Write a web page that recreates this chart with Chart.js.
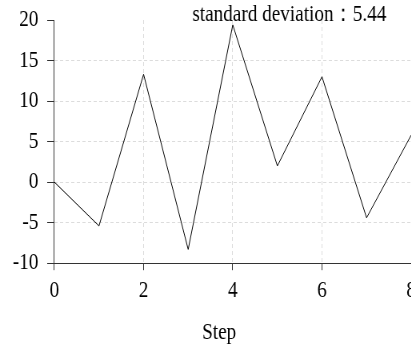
<!DOCTYPE html>
<html>
<head>
<meta charset="utf-8">
<script src="https://cdn.jsdelivr.net/npm/chart.js@4.4.0/dist/chart.umd.min.js"></script>
<style>
  html, body { margin: 0; padding: 0; background: #fff; overflow: hidden; width: 411px; height: 348px; }
  /* the reference looks horizontally squeezed, so draw wider and squeeze */
  #wrap { width: 526px; height: 348px; transform: scaleX(0.8); transform-origin: 0 0; }
</style>
</head>
<body>
<div id="wrap"><canvas id="chart" width="526" height="348"></canvas></div>
<script>
// data
const steps = [0, 1, 2, 3, 4, 5, 6, 7, 8];
const values = [0, -5.4, 13.3, -8.3, 19.4, 2.0, 13.0, -4.4, 5.8];
const xTicks = [0, 2, 4, 6, 8];
const yTicks = [-10, -5, 0, 5, 10, 15, 20];
const sdText = "standard deviation：5.44";
const xTitle = "Step";

const FONT = "'Liberation Serif', 'Times New Roman', serif";

// std-dev note at top right, and the x title (it sits left of the plot centre in the reference)
const textPlugin = {
  id: "extraText",
  afterDraw(chart) {
    const { ctx, chartArea } = chart;
    ctx.save();
    ctx.font = "24px " + FONT;
    ctx.fillStyle = "#000";
    ctx.textBaseline = "alphabetic";
    ctx.textAlign = "right";
    ctx.fillText(sdText, chartArea.right - 31, chartArea.top + 1);
    ctx.textAlign = "center";
    ctx.fillText(xTitle, (chartArea.left + chartArea.right) / 2 - 17, chart.height - 9);
    ctx.restore();
  }
};

new Chart(document.getElementById("chart"), {
  type: "line",
  data: {
    datasets: [{
      data: steps.map((s, i) => ({ x: s, y: values[i] })),
      borderColor: "#000",
      borderWidth: 1,
      pointRadius: 0,
      tension: 0,
      fill: false
    }]
  },
  options: {
    responsive: false,
    animation: false,
    layout: { padding: { left: 5, top: 0, right: 0, bottom: 37 } },
    plugins: {
      legend: { display: false },
      tooltip: { enabled: false }
    },
    scales: {
      x: {
        type: "linear",
        min: xTicks[0],
        max: xTicks[xTicks.length - 1],
        afterBuildTicks: axis => { axis.ticks = xTicks.map(v => ({ value: v })); },
        ticks: { color: "#000", font: { family: FONT, size: 24 }, padding: 6, maxRotation: 0 },
        grid: {
          color: ctx => (ctx.tick && ctx.tick.value === 0 ? "rgba(0,0,0,0)" : "#dcdcdc"),
          tickColor: "#333",
          tickLength: 7
        },
        border: { color: "#333", dash: [4, 3] }
      },
      y: {
        min: yTicks[0],
        max: yTicks[yTicks.length - 1],
        afterBuildTicks: axis => { axis.ticks = yTicks.map(v => ({ value: v })); },
        // keep the plot top where the reference has it
        afterFit: axis => { axis.paddingTop = 20; },
        ticks: { color: "#000", font: { family: FONT, size: 24 }, padding: 11 },
        grid: {
          color: ctx => (ctx.tick && (ctx.tick.value === 20 || ctx.tick.value === -10) ? "rgba(0,0,0,0)" : "#dcdcdc"),
          tickColor: "#333",
          tickLength: 9
        },
        border: { color: "#333", dash: [4, 3] }
      }
    }
  },
  plugins: [textPlugin]
});
</script>
</body>
</html>
